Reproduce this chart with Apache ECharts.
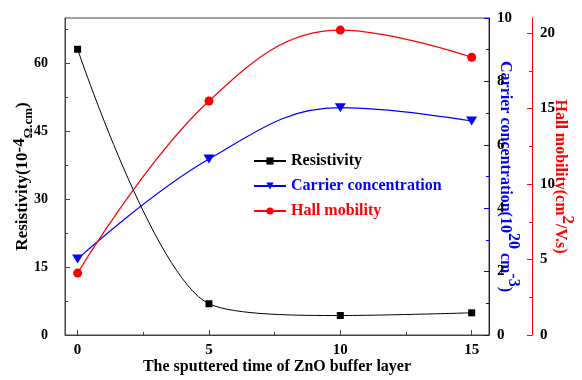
<!DOCTYPE html>
<html><head><meta charset="utf-8">
<script src="https://cdn.jsdelivr.net/npm/echarts@6/dist/echarts.min.js"></script>
<style>html,body{margin:0;padding:0;background:#fff}#c{width:582px;height:380px}</style>
</head><body><div id="c"></div>
<script>
var xValues = [0, 5, 10, 15];
var resistivity = [63.1, 6.9, 4.3, 4.9];
var carrier = [2.4, 5.55, 7.17, 6.75];
var hall = [4.1, 15.5, 20.2, 18.4];
var xTickLabels = [0, 5, 10, 15];
var xMinorTicks = [2.5, 7.5, 12.5];
var leftTickLabels = [0, 15, 30, 45, 60];
var leftMinorTicks = [7.5, 22.5, 37.5, 52.5, 67.5];
var blueTickLabels = [0, 2, 4, 6, 8, 10];
var blueMinorTicks = [1, 3, 5, 7, 9];
var redTickLabels = [0, 5, 10, 15, 20];
var redMinorTicks = [2.5, 7.5, 12.5, 17.5];

var FF = "'Liberation Serif','Times New Roman',serif";
function pairs(ys){ return xValues.map(function(x,i){ return [x, ys[i]]; }); }
var lbl = {fontFamily: FF, fontWeight: 'bold', fontSize: 15, color: '#000'};

var chart = echarts.init(document.getElementById('c'), null, {renderer: 'canvas'});
var option = {
  animation: false,
  backgroundColor: '#fff',
  grid: {left: 65, right: 93, top: 18, bottom: 45, show: true, borderColor: '#444', borderWidth: 1,
         backgroundColor: 'transparent', containLabel: false, outerBoundsMode: 'none'},
  legend: {
    orient: 'vertical', left: 248, top: 148, itemWidth: 32, itemHeight: 9, itemGap: 9,
    textStyle: {fontFamily: FF, fontWeight: 'bold', fontSize: 16},
    data: [
      {name: 'Resistivity', textStyle: {color: '#000'}},
      {name: 'Carrier concentration', textStyle: {color: '#0000ff'}},
      {name: 'Hall mobility', textStyle: {color: '#ff0000'}}
    ]
  },
  xAxis: [
    {type: 'value', min: -0.48, max: 15.66, nameMoveOverlap: false,
     axisLine: {show: true, onZero: false, lineStyle: {color: '#444', width: 1}},
     axisTick: {show: true, inside: true, length: 5, customValues: xTickLabels, lineStyle: {color: '#444'}},
     axisLabel: Object.assign({margin: 8, customValues: xTickLabels}, lbl),
     splitLine: {show: false},
     name: 'The sputtered time of ZnO buffer layer', nameLocation: 'middle', nameGap: 24,
     nameTextStyle: {fontFamily: FF, fontWeight: 'bold', fontSize: 16, color: '#000'}},
    {type: 'value', min: -0.48, max: 15.66, position: 'bottom',
     axisLine: {show: false, onZero: false},
     axisTick: {show: true, inside: true, length: 3, customValues: xMinorTicks, lineStyle: {color: '#444'}},
     axisLabel: {show: false}, splitLine: {show: false}}
  ],
  yAxis: [
    {type: 'value', min: 0, max: 70, position: 'left', nameMoveOverlap: false,
     axisLine: {show: true, onZero: false, lineStyle: {color: '#444'}},
     axisTick: {show: true, inside: true, length: 5, customValues: leftTickLabels, lineStyle: {color: '#444'}},
     axisLabel: Object.assign({margin: 17, customValues: leftTickLabels}, lbl, {fontSize: 14}),
     splitLine: {show: false},
     name: '{b|Resistivity(10}{sup|-4}{sub|Ω.cm}{b|)}', nameLocation: 'middle', nameGap: 30, nameRotate: 90,
     nameTextStyle: {fontFamily: FF, fontWeight: 'bold', fontSize: 16, color: '#000',
       rich: {
         b: {fontFamily: FF, fontWeight: 'bold', fontSize: 17, color: '#000', verticalAlign: 'middle', lineHeight: 24},
         sup: {fontFamily: FF, fontWeight: 'bold', fontSize: 17, color: '#000', verticalAlign: 'top', lineHeight: 24},
         sub: {fontFamily: FF, fontWeight: 'bold', fontSize: 13, color: '#000', verticalAlign: 'bottom', lineHeight: 24}
       }}},
    {type: 'value', min: 0, max: 70, position: 'left',
     axisLine: {show: false, onZero: false},
     axisTick: {show: true, inside: true, length: 3, customValues: leftMinorTicks, lineStyle: {color: '#444'}},
     axisLabel: {show: false}, splitLine: {show: false}},
    {type: 'value', min: 0, max: 10, interval: 2, position: 'right', offset: 0, nameMoveOverlap: false,
     axisLine: {show: true, onZero: false, lineStyle: {color: '#0000ff'}},
     axisTick: {show: true, inside: true, length: 5, lineStyle: {color: '#0000ff'}},
     axisLabel: Object.assign({margin: 8}, lbl),
     splitLine: {show: false},
     name: '{b|Carrier concentration(10}{sup|20}{b| cm}{sup|-3}{b|)}', nameLocation: 'middle', nameGap: 8, nameRotate: -90,
     nameTextStyle: {fontFamily: FF, fontWeight: 'bold', fontSize: 16, color: '#0000ff',
       rich: {
         b: {fontFamily: FF, fontWeight: 'bold', fontSize: 16, color: '#0000ff', verticalAlign: 'bottom', lineHeight: 24},
         sup: {fontFamily: FF, fontWeight: 'bold', fontSize: 16, color: '#0000ff', verticalAlign: 'top', lineHeight: 24}
       }}},
    {type: 'value', min: 0, max: 10, position: 'right', offset: 0,
     axisLine: {show: false, onZero: false},
     axisTick: {show: true, inside: true, length: 3, customValues: blueMinorTicks, lineStyle: {color: '#0000ff'}},
     axisLabel: {show: false}, splitLine: {show: false}},
    {type: 'value', min: 0, max: 21, position: 'right', offset: 43, nameMoveOverlap: false,
     axisLine: {show: true, onZero: false, lineStyle: {color: '#ff0000'}},
     axisTick: {show: true, inside: true, length: 5, customValues: redTickLabels, lineStyle: {color: '#ff0000'}},
     axisLabel: Object.assign({margin: 8, customValues: redTickLabels}, lbl),
     splitLine: {show: false},
     name: '{b|Hall mobility(cm}{sup|2}{b|/V.s)}', nameLocation: 'middle', nameGap: 20, nameRotate: -90,
     nameTextStyle: {fontFamily: FF, fontWeight: 'bold', fontSize: 16, color: '#ff0000',
       rich: {
         b: {fontFamily: FF, fontWeight: 'bold', fontSize: 16, color: '#ff0000', verticalAlign: 'bottom', lineHeight: 24},
         sup: {fontFamily: FF, fontWeight: 'bold', fontSize: 17, color: '#ff0000', verticalAlign: 'top', lineHeight: 24}
       }}},
    {type: 'value', min: 0, max: 21, position: 'right', offset: 43,
     axisLine: {show: false, onZero: false},
     axisTick: {show: true, inside: true, length: 3, customValues: redMinorTicks, lineStyle: {color: '#ff0000'}},
     axisLabel: {show: false}, splitLine: {show: false}}
  ],
  series: [
    {name: 'Resistivity', type: 'line', xAxisIndex: 0, yAxisIndex: 0, data: pairs(resistivity), smooth: 0.3,
     symbol: 'rect', symbolSize: 7, itemStyle: {color: '#000'}, lineStyle: {color: '#000', width: 1}},
    {name: 'Carrier concentration', type: 'line', xAxisIndex: 0, yAxisIndex: 2, data: pairs(carrier), smooth: 0.4,
     symbol: 'path://M0,0 L10,0 L5,8.7 Z', symbolSize: [11, 9], itemStyle: {color: '#0000ff'}, lineStyle: {color: '#0000ff', width: 1.2}},
    {name: 'Hall mobility', type: 'line', xAxisIndex: 0, yAxisIndex: 4, data: pairs(hall), smooth: 0.4,
     symbol: 'circle', symbolSize: 9, itemStyle: {color: '#ff0000'}, lineStyle: {color: '#ff0000', width: 1.2}}
  ]
};
chart.setOption(option);
</script>
</body></html>
